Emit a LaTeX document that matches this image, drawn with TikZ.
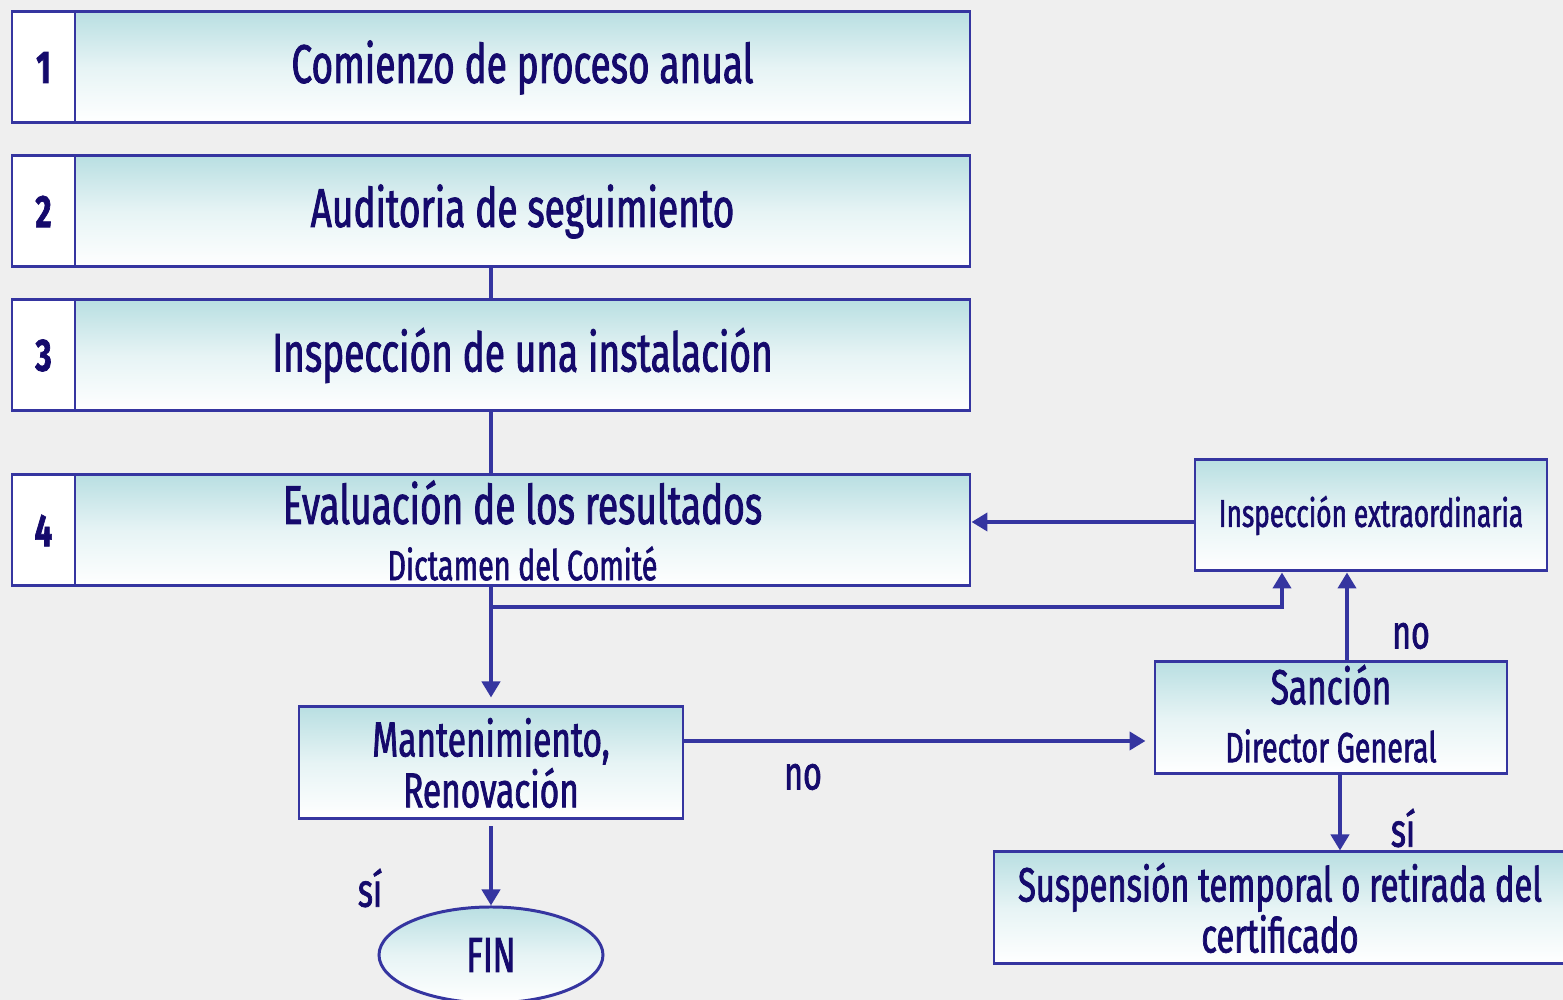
\documentclass[tikz,border=0pt]{standalone}
\usepackage{fontspec}
\setmainfont{Fira Sans}[FakeStretch=0.68,FakeBold=1.5]
\usetikzlibrary{arrows.meta,shapes.geometric}
\definecolor{rim}{HTML}{3535A0}
\definecolor{ink}{HTML}{150A6C}
\definecolor{boxtop}{HTML}{B9DFE2}
\definecolor{paper}{HTML}{EFEFEF}
\tikzset{
  numbox/.style={draw=rim,line width=0.85pt,fill=white,inner sep=0pt,minimum width=0.63cm,minimum height=1.11cm,text=ink,font=\bfseries\fontsize{13}{15}\selectfont},
  stepbox/.style={draw=rim,line width=0.85pt,top color=boxtop,bottom color=white,middle color=boxtop!35!white,inner sep=0pt,minimum height=1.11cm,text=ink,align=center},
  link/.style={draw=rim,line width=1.4pt},
  arr/.style={link,-{Triangle[width=0.18cm,length=0.16cm]}},
  tag/.style={text=ink,font=\fontsize{13.5}{15}\selectfont}
}
\begin{document}
\begin{tikzpicture}
\fill[paper] (0,0) rectangle (15.63,-10);
\useasboundingbox (0,0) rectangle (15.63,-10);

\path (0.435,-0.675) node[numbox](n1){1} (5.225,-0.675) node[stepbox,minimum width=8.95cm,font=\fontsize{15.5}{18}\selectfont](s1){Comienzo de proceso anual};
\path (0.435,-2.115) node[numbox](n2){2} (5.225,-2.115) node[stepbox,minimum width=8.95cm,font=\fontsize{15.5}{18}\selectfont](s2){Auditoria de seguimiento};
\path (0.435,-3.555) node[numbox](n3){3} (5.225,-3.555) node[stepbox,minimum width=8.95cm,font=\fontsize{15.5}{18}\selectfont](s3){Inspección de una instalación};
\path (0.435,-5.305) node[numbox](n4){4} (5.225,-5.305) node[stepbox,minimum width=8.95cm](s4){{\fontsize{15.5}{18}\selectfont Evaluación de los resultados}\\[4pt]{\fontsize{12}{13}\selectfont Dictamen del Comité}};
\path (13.71,-5.155) node[stepbox,minimum width=3.52cm,font=\fontsize{11}{13}\selectfont](extra){Inspección extraordinaria};
\path (4.91,-7.63) node[stepbox,minimum width=3.84cm,minimum height=1.12cm,font=\fontsize{14}{14.5}\selectfont](mant){Mantenimiento,\\Renovación};
\path (13.31,-7.18) node[stepbox,minimum width=3.52cm,minimum height=1.12cm](sancion){{\fontsize{14}{17}\selectfont Sanción}\\[4.5pt]{\fontsize{12}{14}\selectfont Director General\vphantom{p}}};
\path (12.8,-9.08) node[stepbox,minimum width=5.72cm,minimum height=1.12cm,font=\fontsize{13.7}{14.5}\selectfont](susp){Suspensión temporal o retirada del\\certificado};
\path (4.91,-9.55) node[ellipse,stepbox,minimum width=2.24cm,minimum height=0.96cm,font=\fontsize{14}{16}\selectfont](fin){FIN};
\path (8.03,-7.77) node[tag](no1){no} (14.11,-6.36) node[tag](no2){no} (3.70,-8.88) node[tag](si1){sí} (14.03,-8.28) node[tag](si2){sí};
\coordinate (split) at (4.91,-6.07);

\draw[link] (s2.south -| 4.91,0) -- (s3.north -| 4.91,0);
\draw[link] (s3.south -| 4.91,0) -- (s4.north -| 4.91,0);
\draw[arr] (s4.south -| 4.91,0) -- ([yshift=0.08cm]mant.north);
\draw[arr] (split) -| (extra.south -| 12.82,0);
\draw[arr] (extra.west |- 0,-5.22) -- (s4.east |- 0,-5.22);
\draw[arr] (mant.east |- 0,-7.41) -- ([xshift=-0.08cm]sancion.west |- 0,-7.41);
\draw[arr] (sancion.north -| 13.47,0) -- (extra.south -| 13.47,0);
\draw[arr] (sancion.south -| 13.40,0) -- (susp.north -| 13.40,0);
\draw[arr] ([yshift=-0.06cm]mant.south) -- (fin.north);
\end{tikzpicture}
\end{document}
